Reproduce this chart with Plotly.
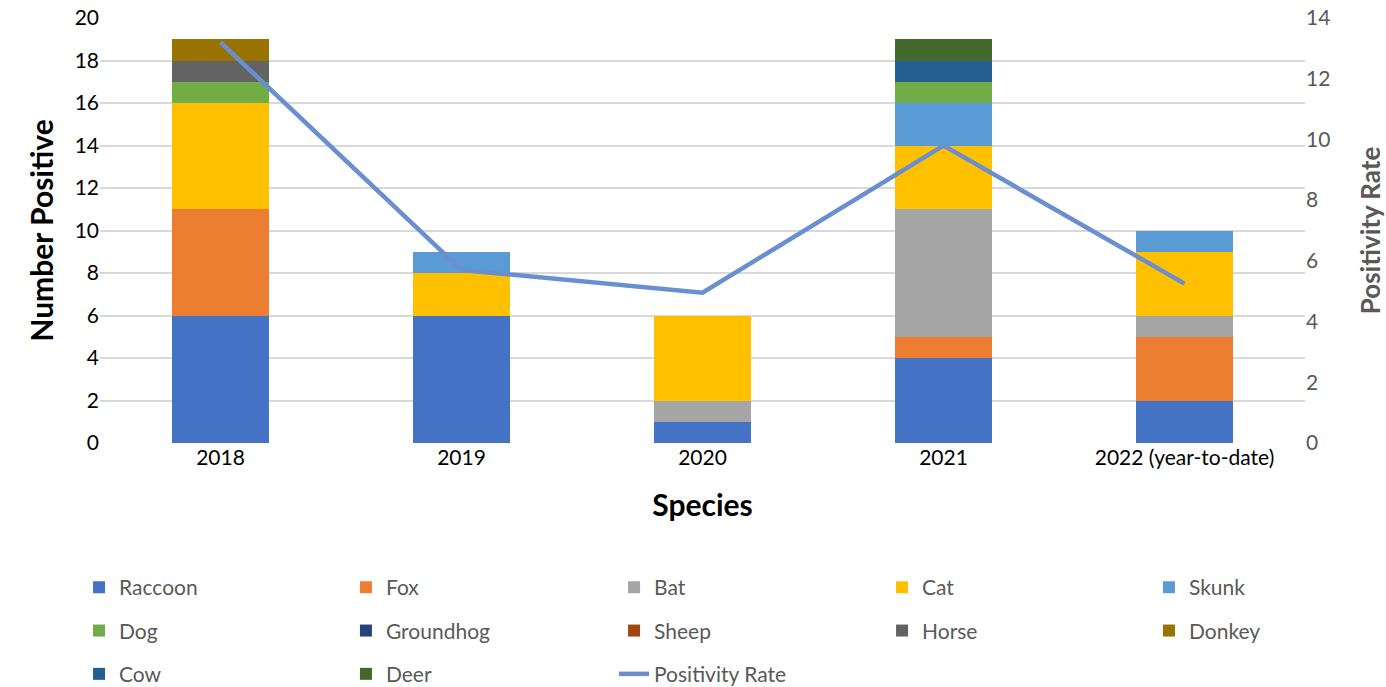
import plotly.graph_objects as go

years = ["2018", "2019", "2020", "2021", "2022 (year-to-date)"]
raccoon = [6, 6, 1, 4, 2]
fox = [5, 0, 0, 1, 3]
bat = [0, 0, 1, 6, 1]
cat = [5, 2, 4, 3, 3]
skunk = [0, 1, 0, 2, 1]
dog = [1, 0, 0, 1, 0]
groundhog = [0, 0, 0, 0, 0]
sheep = [0, 0, 0, 0, 0]
horse = [1, 0, 0, 0, 0]
donkey = [1, 0, 0, 0, 0]
cow = [0, 0, 0, 1, 0]
deer = [0, 0, 0, 1, 0]
positivity_rate = [13.2, 5.7, 4.95, 9.8, 5.25]

# (name, values, colour, legend column)
species = [
    ("Raccoon", raccoon, "#4472C4", "legend"),
    ("Fox", fox, "#ED7D31", "legend2"),
    ("Bat", bat, "#A5A5A5", "legend3"),
    ("Cat", cat, "#FFC000", "legend4"),
    ("Skunk", skunk, "#5B9BD5", "legend5"),
    ("Dog", dog, "#70AD47", "legend"),
    ("Groundhog", groundhog, "#264478", "legend2"),
    ("Sheep", sheep, "#9E480E", "legend3"),
    ("Horse", horse, "#636363", "legend4"),
    ("Donkey", donkey, "#997300", "legend5"),
    ("Cow", cow, "#255E91", "legend"),
    ("Deer", deer, "#43682B", "legend2"),
]

FONT = "Lato, 'Open Sans', sans-serif"
fig = go.Figure()
for name, vals, color, lg in species:
    fig.add_trace(go.Bar(x=years, y=vals, name=name, legendgroup=name,
                         marker=dict(color=color, line=dict(width=0)), legend=lg))
fig.add_trace(go.Scatter(x=years, y=positivity_rate, name="Positivity Rate", legendgroup="rate",
                         yaxis="y2", mode="lines", line=dict(color="#6A8FD0", width=4.5),
                         legend="legend3"))

col_x = [-0.0174, 0.2041, 0.4266, 0.6490, 0.8705]
leg_common = dict(orientation="v", xanchor="left", yanchor="top", y=-0.292,
                  traceorder="grouped", tracegroupgap=13,
                  font=dict(family=FONT, size=21, color="#595959"), bgcolor="rgba(0,0,0,0)")

fig.update_layout(
    width=1386, height=687,
    margin=dict(l=100, r=81, t=18, b=244, autoexpand=False),
    barmode="stack", bargap=0.6,
    plot_bgcolor="white", paper_bgcolor="white",
    font=dict(family=FONT, size=21, color="#000000"),
    xaxis=dict(showgrid=False, ticks="", showline=False, automargin=False,
               tickfont=dict(size=21, color="#000000"),
               title=dict(text="<b>Species</b>", font=dict(size=30, color="#000000"), standoff=26)),
    yaxis=dict(range=[0, 20], dtick=2, showgrid=True, gridcolor="#D9D9D9", gridwidth=1.5,
               zeroline=False, ticks="", automargin=False, ticklabeloverflow="allow",
               tickfont=dict(size=21, color="#000000"),
               title=dict(text="<b>Number Positive</b>", font=dict(size=30, color="#000000"), standoff=12)),
    yaxis2=dict(range=[0, 14], dtick=2, overlaying="y", side="right", showgrid=False,
                zeroline=False, ticks="", automargin=False, ticklabeloverflow="allow",
                tickfont=dict(size=21, color="#595959"),
                title=dict(text="<b>Positivity Rate</b>", font=dict(size=26, color="#595959"), standoff=47)),
    legend=dict(**leg_common, x=col_x[0]),
    legend2=dict(**leg_common, x=col_x[1]),
    legend3=dict(**leg_common, x=col_x[2]),
    legend4=dict(**leg_common, x=col_x[3]),
    legend5=dict(**leg_common, x=col_x[4]),
)

fig.write_html("out.html", config={"displayModeBar": False},
               post_script="document.body.style.margin='0';document.body.style.overflow='hidden';")
